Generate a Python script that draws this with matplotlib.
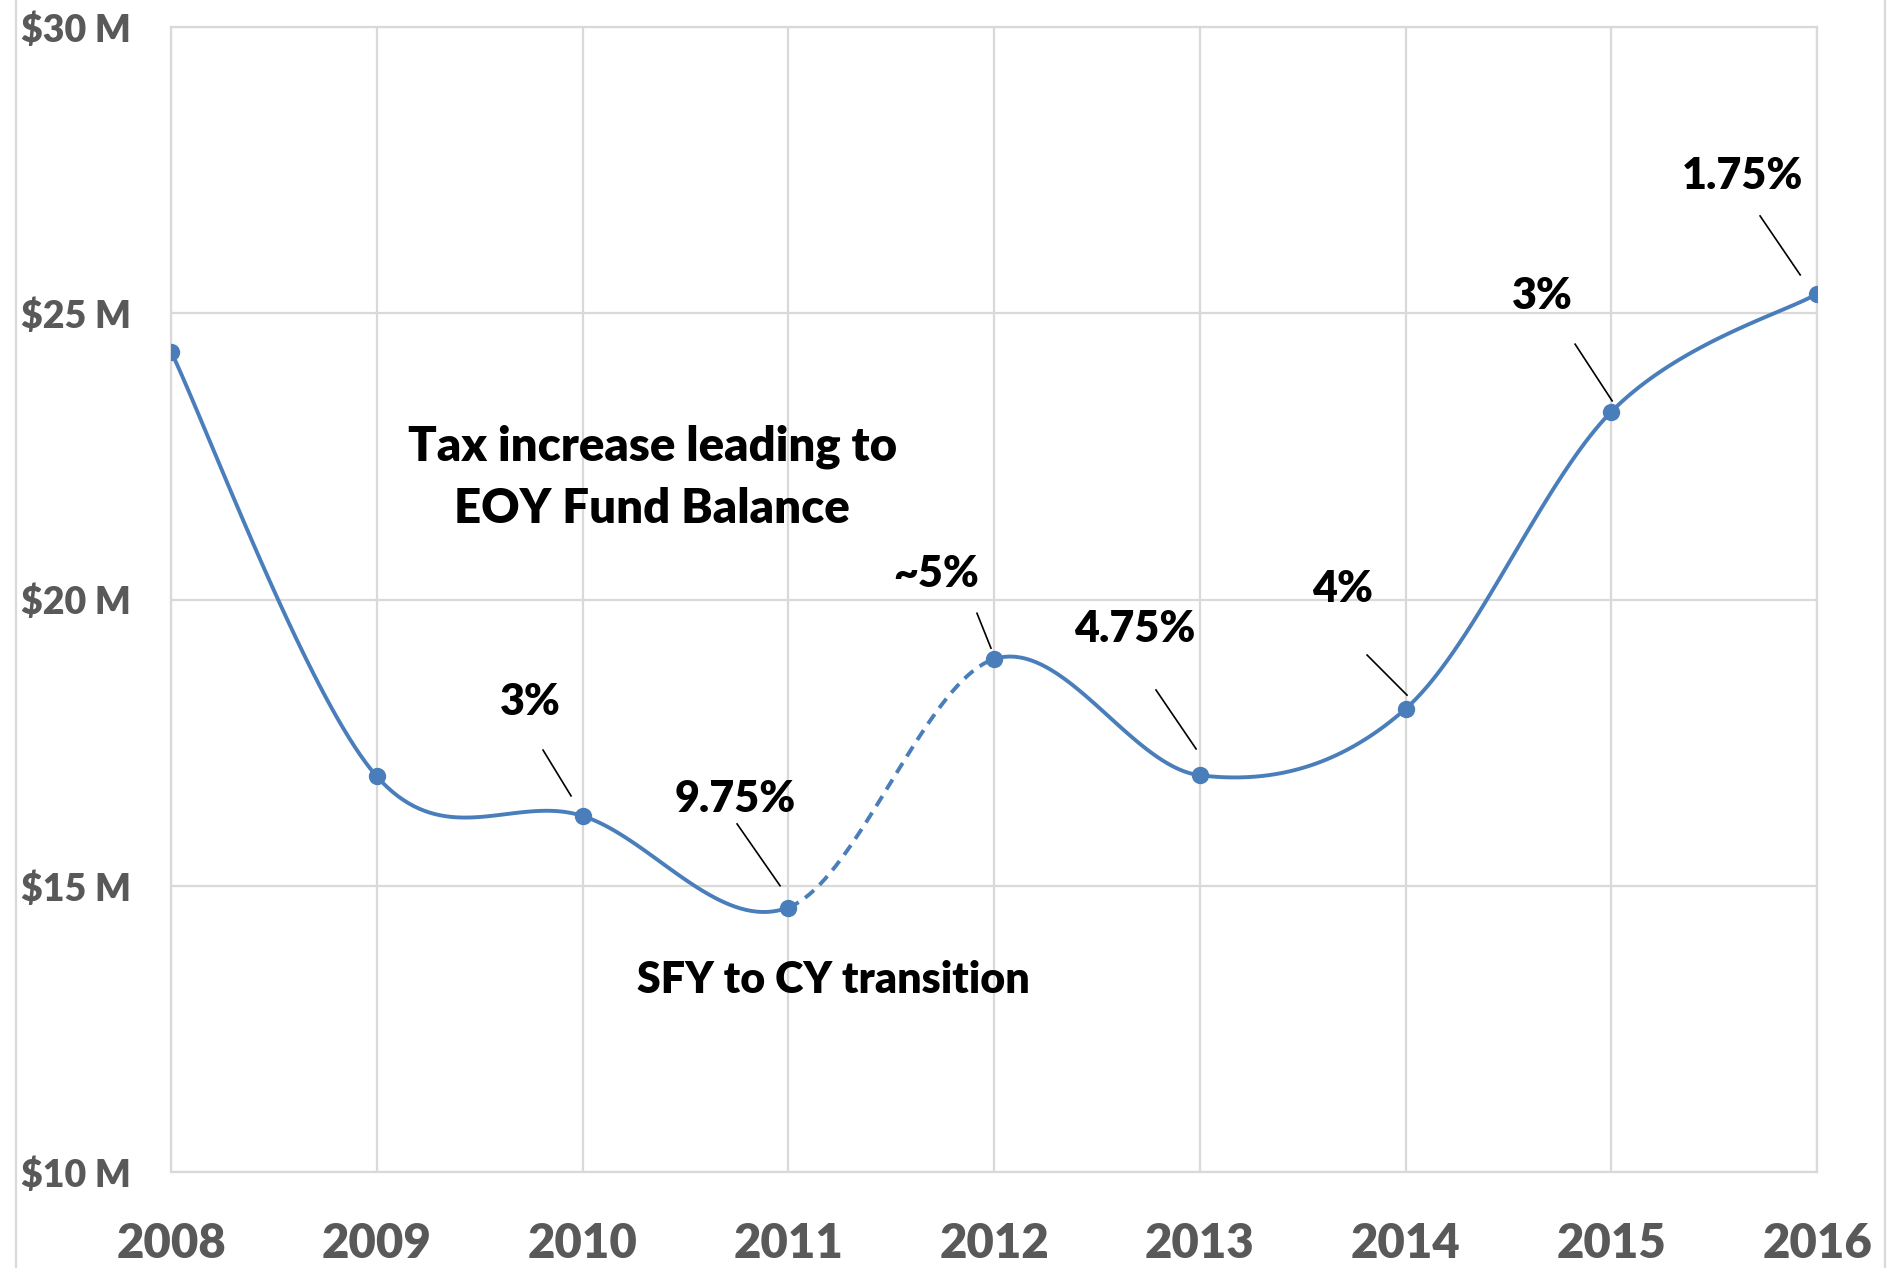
import matplotlib.pyplot as plt
import numpy as np

years = [2008, 2009, 2010, 2011, 2012, 2013, 2014, 2015, 2016]
balance = [24.33, 16.91, 16.22, 14.62, 18.96, 16.93, 18.09, 23.28, 25.34]  # $ M
dashed_from = 2011  # SFY to CY transition segment

yticks = [10, 15, 20, 25, 30]
ytick_labels = ["$10 M", "$15 M", "$20 M", "$25 M", "$30 M"]

# label, text position, leader line start, leader line end (data units)
rate_labels = [
    ("3%",    (2009.745, 18.21), (2009.808, 17.37), (2009.944, 16.57)),
    ("9.75%", (2010.741, 16.52), (2010.751, 16.08), (2010.960, 15.00)),
    ("~5%",   (2011.718, 20.45), (2011.917, 19.76), (2011.985, 19.15)),
    ("4.75%", (2012.685, 19.49), (2012.787, 18.42), (2012.982, 17.39)),
    ("4%",    (2013.696, 20.18), (2013.813, 19.03), (2014.007, 18.33)),
    ("3%",    (2014.663, 25.30), (2014.824, 24.46), (2015.004, 23.47)),
    ("1.75%", (2015.636, 27.40), (2015.723, 26.70), (2015.918, 25.67)),
]

blue = "#4A7EBB"
grid_c = "#D9D9D9"
tick_c = "#595959"
plt.rcParams['font.family'] = ['Lato', 'DejaVu Sans']


def smooth_segment(x, y, i, n=40):
    # catmull-rom style bezier like excel smoothed lines
    p0 = np.array([x[max(i - 1, 0)], y[max(i - 1, 0)]])
    p1 = np.array([x[i], y[i]])
    p2 = np.array([x[i + 1], y[i + 1]])
    p3 = np.array([x[min(i + 2, len(x) - 1)], y[min(i + 2, len(x) - 1)]])
    c1 = p1 + (p2 - p0) / 6
    c2 = p2 - (p3 - p1) / 6
    t = np.linspace(0, 1, n)[:, None]
    pts = (1 - t) ** 3 * p1 + 3 * (1 - t) ** 2 * t * c1 + 3 * (1 - t) * t ** 2 * c2 + t ** 3 * p2
    return pts[:, 0], pts[:, 1]


fig = plt.figure(figsize=(18.92, 12.68), dpi=100)
ax = fig.add_axes([0.0904, 0.0757, 0.87, 0.9030])

for i in range(len(years) - 1):
    sx, sy = smooth_segment(years, balance, i)
    ls = (0, (3, 2)) if years[i] == dashed_from else '-'
    ax.plot(sx, sy, color=blue, lw=2.8, ls=ls, solid_capstyle='round', zorder=3)
ax.plot(years, balance, 'o', color=blue, markersize=11.5, zorder=4)

for lab, tpos, l0, l1 in rate_labels:
    ax.text(tpos[0], tpos[1], lab, fontsize=31, fontweight='heavy', ha='center', va='center', color='black')
    ax.plot([l0[0], l1[0]], [l0[1], l1[1]], color='black', lw=1.2)

ax.text(2010.338, 22.12, "Tax increase leading to\nEOY Fund Balance", fontsize=34, fontweight='heavy',
        ha='center', va='center', linespacing=1.5)
ax.text(2011.217, 13.35, "SFY to CY transition", fontsize=31, fontweight='heavy', ha='center', va='center')

ax.set_xlim(2008, 2016)
ax.set_ylim(10, 30)
ax.set_xticks(years)
ax.set_xticklabels([str(y) for y in years], fontsize=34, fontweight='heavy', color=tick_c)
ax.set_yticks(yticks)
ax.set_yticklabels(ytick_labels, fontsize=27, fontweight='heavy', color=tick_c)
for t in ax.get_yticklabels():
    t.set_horizontalalignment('left')
ax.tick_params(axis='y', length=0, pad=108)
ax.tick_params(axis='x', length=0, pad=36)
ax.grid(True, color=grid_c, lw=1.6)
for s in ax.spines.values():
    s.set_color(grid_c)
    s.set_linewidth(1.6)

# chart area border
fig.add_artist(plt.Line2D([16 / 1892, 16 / 1892], [0, 1], color=grid_c, lw=1.6))
fig.add_artist(plt.Line2D([1885 / 1892, 1885 / 1892], [0, 1], color=grid_c, lw=1.6))

fig.savefig("out.png", dpi=100)
